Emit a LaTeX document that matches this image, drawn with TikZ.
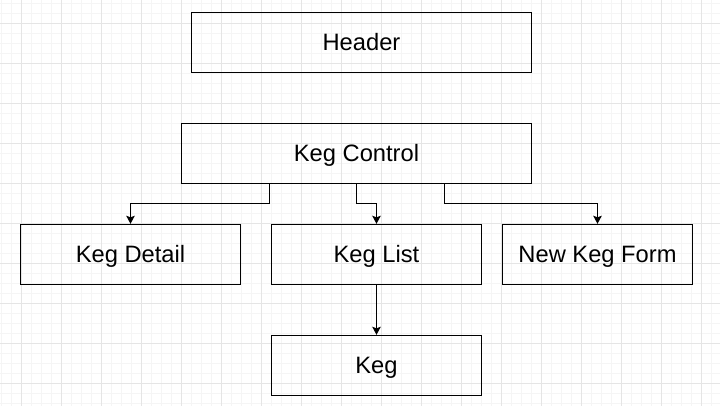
\documentclass[tikz,border=0pt]{standalone}
\usepackage{fontspec}
\setmainfont{Liberation Sans}
\usepackage{tikz}
\usetikzlibrary{arrows.meta,positioning}

\definecolor{gridminor}{RGB}{245,245,245}
\definecolor{gridmajor}{RGB}{229,229,229}

\begin{document}
\begin{tikzpicture}[->,>={Stealth[length=8pt,width=8.5pt,inset=1.5pt]},x=1pt,y=1pt,line width=1pt,
        comp/.style={draw,rectangle,inner sep=0pt,minimum height=60pt,
          font=\fontsize{23.7}{28}\selectfont,text height=17pt,text depth=0pt},
        elbow/.style={to path={-- ++(0,-20pt) -| (\tikztotarget)}}]

  % background grid
  \useasboundingbox (0,0) rectangle (720,-406);
  \begin{scope}[-]
    \clip (0,0) rectangle (720,-406);
    \draw[gridminor,line width=0.7pt,shift={(1.3,-3.3)}] (-20,20) grid[step=10pt] (740,-420);
    \draw[gridmajor,line width=0.7pt,shift={(21.3,-23.3)}] (-40,40) grid[step=40pt] (720,-400);
  \end{scope}

  \node[comp,minimum width=350pt] (keg_control) at (356.5,-153.3) {Keg Control};
  \node[comp,minimum width=340pt] (header) [above=50pt of keg_control,xshift=5pt] {Header};
  \node[comp,minimum width=210pt] (keg_list) [below=40pt of keg_control,xshift=20pt] {Keg List};
  \node[comp,minimum width=220pt] (keg_detail) [left=30pt of keg_list] {Keg Detail};
  \node[comp,minimum width=190pt] (new_keg_form) [right=20pt of keg_list] {New Keg Form};
  \node[comp,minimum width=210pt] (keg) [below=50pt of keg_list] {Keg};

  \path ([xshift=-87.5pt]keg_control.south) edge [elbow] (keg_detail.north)
        (keg_control.south)                 edge [elbow] (keg_list.north)
        ([xshift=87.5pt]keg_control.south)  edge [elbow] (new_keg_form.north)
        (keg_list)                          edge         (keg);

\end{tikzpicture}
\end{document}
